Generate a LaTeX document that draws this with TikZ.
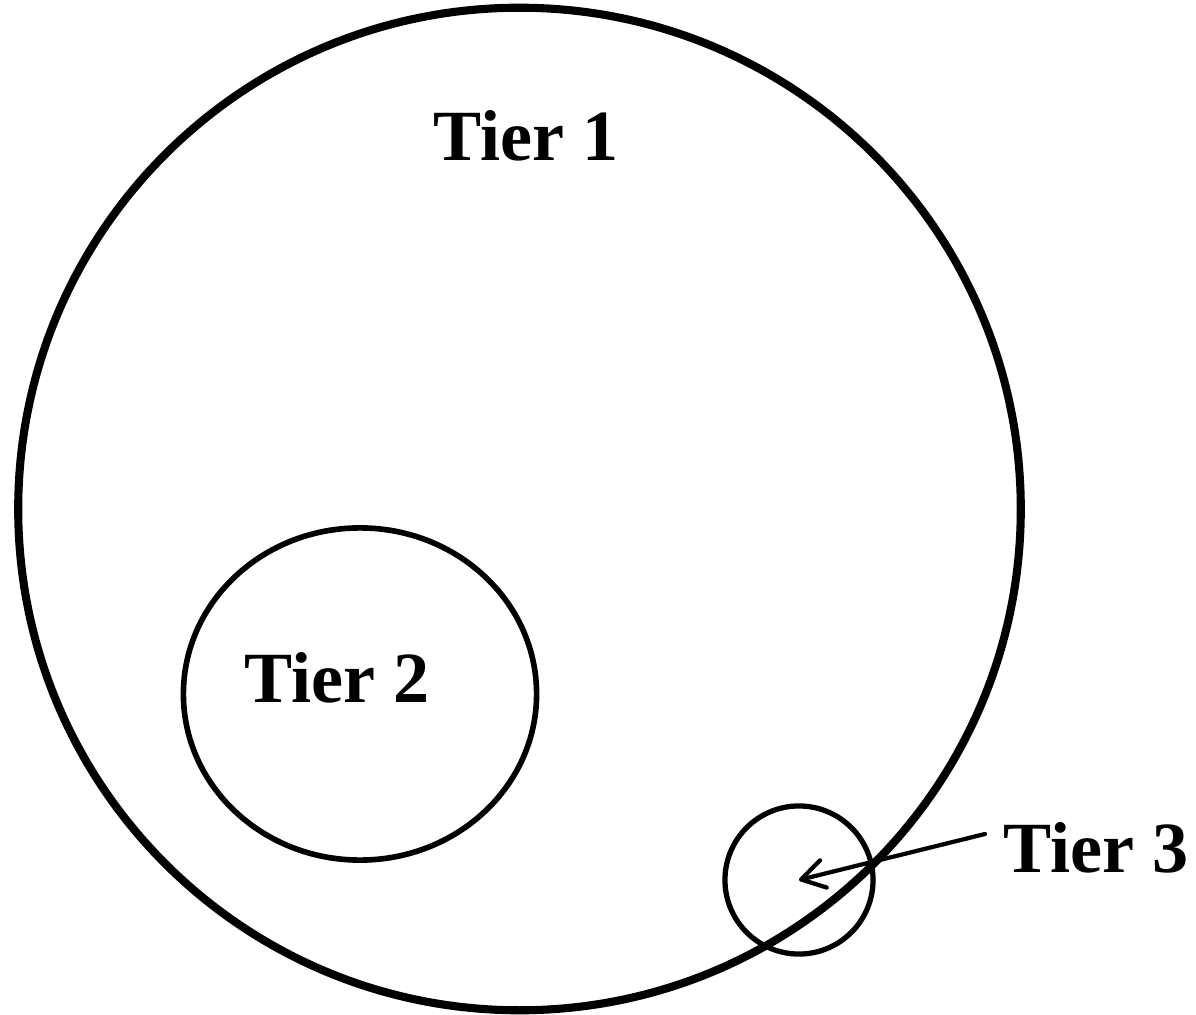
\documentclass[tikz,border=0pt]{standalone}
\usepackage{fontspec}
\setmainfont{Liberation Serif}
\usetikzlibrary{arrows.meta,shapes.geometric}

\begin{document}
\begin{tikzpicture}[x=0.01cm,y=-0.01cm,
  tier/.style={font=\bfseries\fontsize{20.5pt}{24pt}\selectfont,inner sep=0pt,anchor=base},
  ring/.style={draw,inner sep=0pt}]
\useasboundingbox (0,0) rectangle (1196,1015);
\node[ring,circle,line width=2.3pt,minimum size=10.02cm] (c1) at (519.5,509) {};
\node[ring,ellipse,line width=1.6pt,minimum width=3.53cm,minimum height=3.32cm] (c2) at (360,694) {};
\node[ring,circle,line width=1.5pt,minimum size=1.48cm] (c3) at (799,880) {};
\node[tier] (t1) at (526,160) {Tier 1};
\node[tier] (t2) at (337,702) {Tier 2};
\node[tier] (t3) at (1096,872) {Tier 3};
\coordinate (a3) at (985,834);
\draw[-{Straight Barb[length=2.3mm,width=2.8mm,round]},line width=1.2pt,line cap=round] (a3)--(c3.center);
\end{tikzpicture}
\end{document}
